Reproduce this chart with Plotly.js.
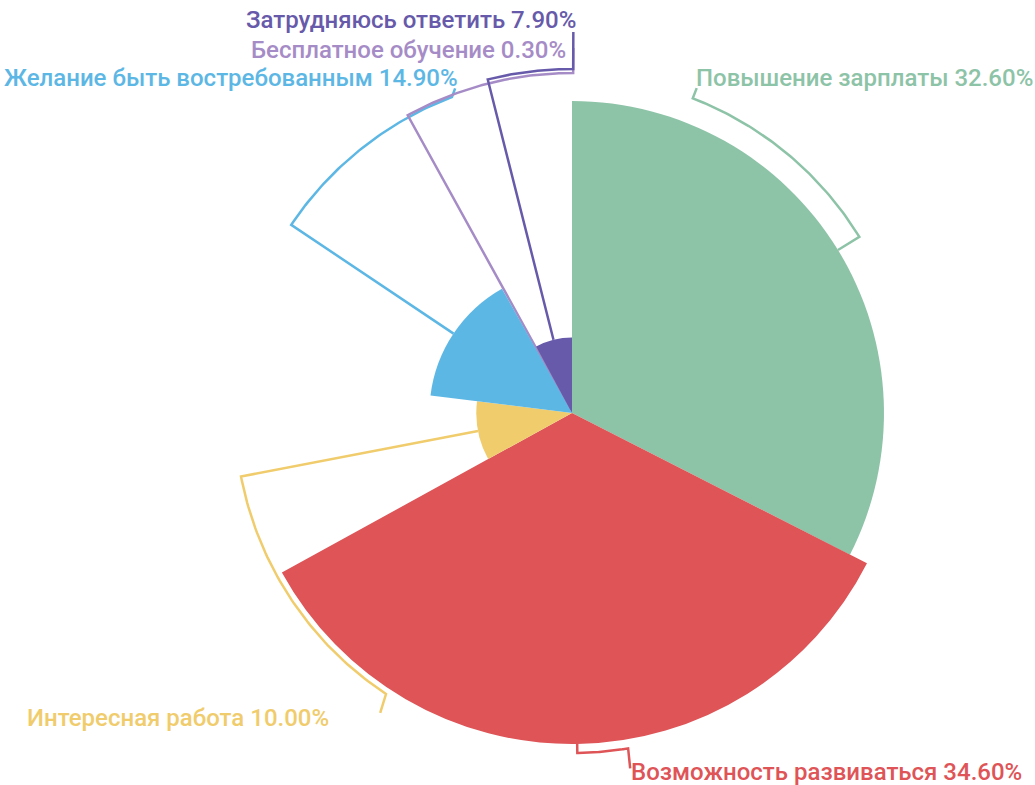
<!DOCTYPE html>
<html><head><meta charset="utf-8">
<script src="https://cdn.plot.ly/plotly-3.0.1.min.js"></script>
<style>html,body{margin:0;padding:0;background:#fff;overflow:hidden}</style>
</head><body><div id="chart" style="width:1035px;height:785px"></div>
<script>
// ---- data ----
const categories = ['Повышение зарплаты', 'Возможность развиваться', 'Интересная работа',
  'Желание быть востребованным', 'Бесплатное обучение', 'Затрудняюсь ответить'];
const values = [32.6, 34.6, 10.0, 14.9, 0.3, 7.9];
const colors = ['#8DC3A7', '#DE5457', '#F0CC6C', '#5DB7E5', '#A68CC7', '#675AAA'];

// ---- layout of leader lines and labels (pixels / degrees) ----
const arcRadiusPx = [337, 340, 337, 338, 340, 344];
const arcEndDeg = [21.0, 170.5, 213.5, 339.2, 360.2, 360.2];
const tickRadiusPx = [348, 360, 356, 345, 365, 381];
const tickDeg = [21.0, 170.7, 212.6, 340.2, 360.2, 360.2];
const labelX = [694, 629, 25, 460, 568, 578];
const labelY = [78, 772, 718, 78, 50, 20];
const labelAnchor = ['left', 'left', 'left', 'right', 'right', 'right'];

const W = 1035, H = 785, CX = 572, CY = 413, RPX = 344.5, RMAX = 36;
const k = RPX / RMAX;

const total = values.reduce((a, b) => a + b, 0);
let acc = 0;
const spans = [], mids = [];
values.forEach(v => { const s = v / total * 360; spans.push(s); mids.push(acc + s / 2); acc += s; });

const traces = [];
function pt(r, deg) { const a = deg * Math.PI / 180; return [r * Math.sin(a), r * Math.cos(a)]; }
values.forEach((v, i) => {
  const R = arcRadiusPx[i] / k;
  const pts = [pt(v, mids[i]), pt(R, mids[i])];
  const n = 60;
  for (let j = 1; j <= n; j++) {
    const d = mids[i] + (arcEndDeg[i] - mids[i]) * j / n;
    pts.push(pt(R, d));
  }
  pts.push(pt(tickRadiusPx[i] / k, tickDeg[i]));
  traces.push({
    type: 'scatter', mode: 'lines', xaxis: 'x', yaxis: 'y',
    x: pts.map(p => p[0]), y: pts.map(p => p[1]),
    line: {color: colors[i], width: 2.5}, hoverinfo: 'skip', showlegend: false
  });
});

traces.push({
  type: 'barpolar', r: values, theta: mids, width: spans,
  marker: {color: colors, line: {width: 0}}, showlegend: false, hoverinfo: 'skip'
});

const annotations = values.map((v, i) => ({
  xref: 'paper', yref: 'paper', x: labelX[i] / W, y: 1 - labelY[i] / H,
  xanchor: labelAnchor[i], yanchor: 'middle', showarrow: false,
  text: categories[i] + ' ' + v.toFixed(2) + '%',
  font: {family: 'Roboto', size: 24, weight: 500, color: colors[i]}
}));

const layout = {
  width: W, height: H, margin: {l: 0, r: 0, t: 0, b: 0},
  paper_bgcolor: '#fff', plot_bgcolor: 'rgba(0,0,0,0)', showlegend: false,
  xaxis: {domain: [0, 1], range: [-CX / k, (W - CX) / k], visible: false, fixedrange: true},
  yaxis: {domain: [0, 1], range: [-(H - CY) / k, CY / k], visible: false, fixedrange: true},
  polar: {
    domain: {x: [(CX - RPX) / W, (CX + RPX) / W], y: [(H - CY - RPX) / H, (H - CY + RPX) / H]},
    bgcolor: 'rgba(0,0,0,0)',
    radialaxis: {range: [0, RMAX], visible: false},
    angularaxis: {rotation: 90, direction: 'clockwise', visible: false}
  },
  bargap: 0,
  annotations: annotations,
  hovermode: false
};
Plotly.newPlot('chart', traces, layout, {staticPlot: true, displayModeBar: false});
</script></body></html>
